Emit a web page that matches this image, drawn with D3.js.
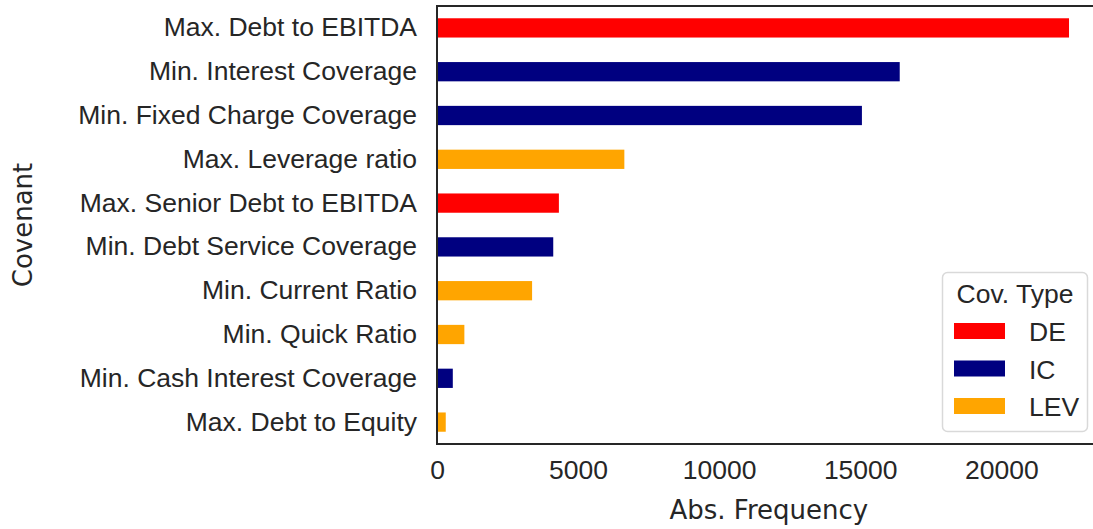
<!DOCTYPE html>
<html>
<head>
<meta charset="utf-8">
<script src="https://cdn.jsdelivr.net/npm/d3@7"></script>
<style>
  html, body { margin: 0; padding: 0; background: #ffffff; }
  svg { display: block; }
</style>
</head>
<body>
<svg id="chart" width="1093" height="529"></svg>
<script>
// ---- data (top to bottom) ----
const covenants = [
  "Max. Debt to EBITDA",
  "Min. Interest Coverage",
  "Min. Fixed Charge Coverage",
  "Max. Leverage ratio",
  "Max. Senior Debt to EBITDA",
  "Min. Debt Service Coverage",
  "Min. Current Ratio",
  "Min. Quick Ratio",
  "Min. Cash Interest Coverage",
  "Max. Debt to Equity"
];
const frequencies = [22400, 16400, 15060, 6640, 4320, 4120, 3370, 970, 560, 310];
const covTypes = ["DE", "IC", "IC", "LEV", "DE", "IC", "LEV", "LEV", "IC", "LEV"];
const legendTypes = ["DE", "IC", "LEV"];
const typeColors = ["#ff0000", "#000080", "#ffa500"];
const xTicks = [0, 5000, 10000, 15000, 20000];

(function () {
  // ---- layout ----
  const svg = d3.select("#chart");
  const pLeft = 437, pTop = 6, pBottom = 444;
  const xMax = d3.max(frequencies) * 1.05;
  const pRight = 437 + xMax * (564.3 / 20000);
  const textColor = "#262626";
  const tickFont = "'Liberation Sans', Arial, sans-serif";
  const labelFont = "'DejaVu Sans', sans-serif";
  const fs = "26.5px";

  const x = d3.scaleLinear().domain([0, xMax]).range([pLeft, pRight]);
  const y = d3.scaleBand().domain(covenants).range([pTop, pBottom]).padding(0);
  const color = d3.scaleOrdinal().domain(legendTypes).range(typeColors);
  const barH = y.bandwidth() * 0.44;

  // bars
  svg.append("g").selectAll("rect")
    .data(covenants.map((c, i) => ({ c, v: frequencies[i], t: covTypes[i] })))
    .join("rect")
    .attr("x", x(0))
    .attr("y", d => y(d.c) + (y.bandwidth() - barH) / 2)
    .attr("width", d => x(d.v) - x(0))
    .attr("height", barH)
    .attr("fill", d => color(d.t));

  // x axis
  const xAxis = svg.append("g")
    .attr("transform", `translate(0,${pBottom})`)
    .call(d3.axisBottom(x).tickValues(xTicks).tickSize(0).tickPadding(16).tickFormat(d3.format("d")));
  xAxis.select(".domain").remove();
  xAxis.selectAll("text")
    .attr("fill", textColor)
    .style("font-family", tickFont)
    .style("font-size", fs);

  // y axis
  const yAxis = svg.append("g")
    .attr("transform", `translate(${pLeft},0)`)
    .call(d3.axisLeft(y).tickSize(0).tickPadding(20));
  yAxis.select(".domain").remove();
  yAxis.selectAll("text")
    .attr("fill", textColor)
    .style("font-family", tickFont)
    .style("font-size", fs);

  // spines
  const spine = svg.append("g")
    .attr("stroke", textColor)
    .attr("stroke-width", 2)
    .attr("fill", "none");
  spine.append("line").attr("x1", pLeft).attr("x2", pLeft).attr("y1", pTop).attr("y2", pBottom);
  spine.append("line").attr("x1", pLeft - 1).attr("x2", pRight).attr("y1", pBottom).attr("y2", pBottom);
  spine.append("line").attr("x1", pLeft - 1).attr("x2", pRight).attr("y1", pTop).attr("y2", pTop);
  spine.append("line").attr("x1", pRight).attr("x2", pRight).attr("y1", pTop).attr("y2", pBottom);

  // axis labels
  svg.append("text")
    .attr("x", (pLeft + pRight) / 2)
    .attr("y", 519)
    .attr("text-anchor", "middle")
    .attr("fill", textColor)
    .style("font-family", labelFont)
    .style("font-size", "26px")
    .text("Abs. Frequency");

  svg.append("text")
    .attr("transform", `translate(32,${(pTop + pBottom) / 2}) rotate(-90)`)
    .attr("text-anchor", "middle")
    .attr("fill", textColor)
    .style("font-family", labelFont)
    .style("font-size", "26px")
    .text("Covenant");

  // legend
  const lg = svg.append("g");
  lg.append("rect")
    .attr("x", 942.5).attr("y", 272.5)
    .attr("width", 145).attr("height", 159)
    .attr("rx", 5).attr("ry", 5)
    .attr("fill", "#ffffff")
    .attr("fill-opacity", 0.8)
    .attr("stroke", "#d9d9d9")
    .attr("stroke-width", 1.5);
  lg.append("text")
    .attr("x", 1015).attr("y", 303)
    .attr("text-anchor", "middle")
    .attr("fill", textColor)
    .style("font-family", tickFont)
    .style("font-size", fs)
    .text("Cov. Type");
  const items = lg.selectAll("g.item")
    .data(legendTypes)
    .join("g")
    .attr("class", "item")
    .attr("transform", (d, i) => `translate(0,${i * 37.5})`);
  items.append("rect")
    .attr("x", 954).attr("y", 323)
    .attr("width", 51).attr("height", 16)
    .attr("fill", d => color(d));
  items.append("text")
    .attr("x", 1029).attr("y", 341)
    .attr("fill", textColor)
    .style("font-family", tickFont)
    .style("font-size", fs)
    .text(d => d);
})();
</script>
</body>
</html>
